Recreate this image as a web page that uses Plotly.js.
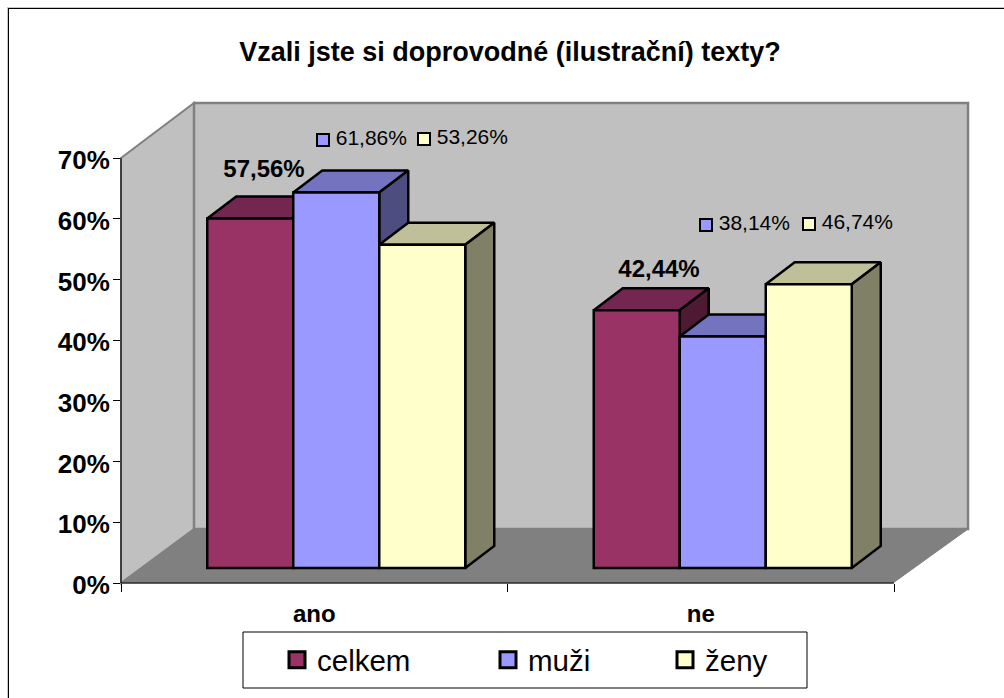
<!DOCTYPE html>
<html>
<head>
<meta charset="utf-8">
<script src="https://cdn.plot.ly/plotly-3.0.1.min.js"></script>
<style>
  html, body { margin:0; padding:0; background:#fff; overflow:hidden; }
  #myDiv { width:1004px; height:698px; }
</style>
</head>
<body>
<div id="myDiv"></div>
<script>
var chartTitle = "Vzali jste si doprovodné (ilustrační) texty?";
var categories = ["ano", "ne"];
var seriesNames = ["celkem", "muži", "ženy"];
var celkem = [57.56, 42.44];
var muzi = [61.86, 38.14];
var zeny = [53.26, 46.74];
var yTicks = [0, 10, 20, 30, 40, 50, 60, 70];

/**************************************************************/
// pixel frame of the plot: axes start at (121,583), back wall ends at (968,103)
var PLOT_L = 121, PLOT_R = 968, PLOT_T = 103, PLOT_B = 583;
var PX_PER_CAT = 386.5;
var PX_PER_PCT = 425 / 70;

function dx(px) { return px / PX_PER_CAT; }
function dy(px) { return px / PX_PER_PCT; }
function toX(px) { return (px - PLOT_L) / PX_PER_CAT - 0.5; }
function toY(px) { return (PLOT_B - px) / PX_PER_PCT; }
function paperX(px) { return (px - PLOT_L) / (PLOT_R - PLOT_L); }
function paperY(px) { return (PLOT_B - px) / (PLOT_B - PLOT_T); }

var FONT = "Liberation Sans, Arial, sans-serif";
var faceColor = ["#993366", "#9999ff", "#ffffcc"];
var topColor = ["#732650", "#7373bf", "#bfbf99"];
var sideColor = ["#4d1933", "#4d4d80", "#808066"];

// bar box geometry
var barWidth = dx(86);
var barBase = dy(15);
var depthX = dx(29);
var depthY = dy(22);
var barOffset = [dx(-107), dx(-21), dx(65)];
var EDGE = 2.5;

/**************************************************************/
function makeFaceTrace(catIdx, vals, sidx, isTop) {
  var xs = [], ys = [];
  for (var i = 0; i < vals.length; i++) {
    var x0 = catIdx[i] + barOffset[sidx];
    var x1 = x0 + barWidth;
    var y0 = barBase;
    var y1 = barBase + vals[i];
    if (isTop) {
      xs.push(x0, x0 + depthX, x1 + depthX, x1, x0, null);
      ys.push(y1, y1 + depthY, y1 + depthY, y1, y1, null);
    } else {
      xs.push(x1, x1 + depthX, x1 + depthX, x1, x1, null);
      ys.push(y1, y1 + depthY, y0 + depthY, y0, y1, null);
    }
  }
  return {
    x: xs, y: ys, type: "scatter", mode: "lines", fill: "toself",
    fillcolor: isTop ? topColor[sidx] : sideColor[sidx],
    line: { color: "#000", width: EDGE },
    hoverinfo: "skip", showlegend: false, zorder: 2 * sidx + 1
  };
}

function makeBarTrace(catIdx, vals, sidx) {
  return {
    x: catIdx, y: vals, base: vals.map(function () { return barBase; }),
    type: "bar", width: barWidth, offset: barOffset[sidx],
    marker: { color: faceColor[sidx], line: { color: "#000", width: EDGE } },
    name: seriesNames[sidx], showlegend: false, zorder: 2 * sidx + 2
  };
}

function makeLegendTrace(sidx) {
  var legendId = sidx === 0 ? "legend" : "legend" + (sidx + 1);
  return {
    x: [null], y: [null], type: "scatter", mode: "markers",
    name: seriesNames[sidx], legend: legendId, showlegend: true,
    marker: { symbol: "square", size: 16, color: faceColor[sidx], line: { color: "#000", width: 3 } }
  };
}

function fmtPct(v) { return v.toFixed(2).replace(".", ",") + "%"; }

// labels sit where they were dragged in the sheet, so they are placed by pixel
function makeLabelTrace(vals, sidx, px, py) {
  var bold = sidx === 0;
  var t = {
    x: px.map(toX), y: py.map(toY), type: "scatter",
    mode: bold ? "text" : "markers+text",
    text: vals.map(function (v) { return (bold ? "" : "\u2009") + fmtPct(v); }),
    textposition: bold ? "middle center" : "middle right",
    textfont: { family: FONT, size: bold ? 24 : 21, color: "#000", weight: bold ? 700 : 400 },
    hoverinfo: "skip", showlegend: false, zorder: 20
  };
  if (!bold)
    t.marker = { symbol: "square", size: 12, color: faceColor[sidx], line: { color: "#000", width: 2 } };
  return t;
}

function makeLegendLayout(keyPx) {
  return {
    x: paperX(keyPx - 30), xanchor: "left", y: paperY(660), yanchor: "middle",
    orientation: "h", bgcolor: "rgba(0,0,0,0)", borderwidth: 0,
    font: { family: FONT, size: 29.5, color: "#000" }
  };
}

function polyPath(pts) {
  var s = "";
  for (var i = 0; i < pts.length; i++)
    s += (i ? "L" : "M") + paperX(pts[i][0]) + "," + paperY(pts[i][1]);
  return s + "Z";
}

function polyShape(pts, fill, lineColor, lw) {
  return { type: "path", xref: "paper", yref: "paper", path: polyPath(pts), layer: "below",
           fillcolor: fill, line: { color: lineColor, width: lw } };
}

function rectShape(x0, y0, x1, y1, lineColor, lw, layer) {
  return { type: "rect", xref: "paper", yref: "paper", layer: layer || "above",
           x0: paperX(x0), x1: paperX(x1), y0: paperY(y0), y1: paperY(y1),
           fillcolor: "rgba(0,0,0,0)", line: { color: lineColor, width: lw } };
}

function lineShape(x0, y0, x1, y1, lineColor, lw) {
  return { type: "line", xref: "paper", yref: "paper", layer: "above",
           x0: paperX(x0), x1: paperX(x1), y0: paperY(y0), y1: paperY(y1),
           line: { color: lineColor, width: lw } };
}

function getLayout() {
  var pos = [0, 1];
  return {
    width: 1004, height: 698,
    margin: { l: PLOT_L, r: 1004 - PLOT_R, t: PLOT_T, b: 698 - PLOT_B, pad: 0, autoexpand: false },
    paper_bgcolor: "#fff", plot_bgcolor: "rgba(0,0,0,0)",
    barmode: "overlay",
    title: { text: chartTitle, font: { family: FONT, size: 27, color: "#000", weight: 700 },
             x: 510 / 1004, xanchor: "center", y: 1 - 52 / 698, yanchor: "middle", xref: "container", yref: "container" },
    xaxis: {
      range: [-0.5, toX(PLOT_R)], showgrid: false, zeroline: false, showline: false,
      tickmode: "array", tickvals: pos, ticktext: categories, ticks: "", ticklabelstandoff: 14,
      tickfont: { family: FONT, size: 24, color: "#000", weight: 700 },
      minor: { tickmode: "array", tickvals: [-0.5, 0.5, 1.5], ticks: "outside", ticklen: 8, tickwidth: 1, tickcolor: "#000", showgrid: false }
    },
    yaxis: {
      range: [0, toY(PLOT_T)], showgrid: false, zeroline: false, showline: false,
      tickmode: "array", tickvals: yTicks, ticktext: yTicks.map(function (v) { return v + "%"; }),
      ticks: "outside", ticklen: 7, tickwidth: 1, tickcolor: "#000", ticklabelstandoff: -2, ticklabelshift: 2,
      tickfont: { family: FONT, size: 26, color: "#000", weight: 700 }
    },
    legend: makeLegendLayout(307),
    legend2: makeLegendLayout(518),
    legend3: makeLegendLayout(695),
    shapes: [
      polyShape([[121, 158], [194, 103], [194, 529], [121, 583]], "#c0c0c0", "#808080", 2),
      polyShape([[194, 103], [968, 103], [968, 529], [194, 529]], "#c0c0c0", "#808080", 2.5),
      polyShape([[121, 583], [194, 529], [968, 529], [893, 583]], "#808080", "#808080", 1),
      lineShape(121, 158, 121, 583, "#000", 1),
      lineShape(121, 583, 894, 583, "#000", 1),
      rectShape(243, 632, 807, 688, "#000", 1),
      // sheet frame only shows on its top and left edge
      lineShape(7, 7.5, 1004, 7.5, "#c8c8c8", 1),
      lineShape(7.5, 7, 7.5, 698, "#c8c8c8", 1),
      lineShape(8, 8.5, 1004, 8.5, "#000", 1),
      lineShape(8.5, 8, 8.5, 698, "#000", 1)
    ]
  };
}

function addAPlot() {
  var pos = [0, 1];
  var data = [];
  var allVals = [celkem, muzi, zeny];
  for (var s = 0; s < allVals.length; s++) {
    data.push(makeFaceTrace(pos, allVals[s], s, true));
    data.push(makeFaceTrace(pos, allVals[s], s, false));
    data.push(makeBarTrace(pos, allVals[s], s));
  }
  data.push(makeLabelTrace(celkem, 0, [264, 659], [171, 271]));
  data.push(makeLabelTrace(muzi, 1, [323, 706], [140, 225]));
  data.push(makeLabelTrace(zeny, 2, [424, 809], [139, 224]));
  for (var k = 0; k < 3; k++)
    data.push(makeLegendTrace(k));
  return Plotly.newPlot("myDiv", data, getLayout(), { displayModeBar: false });
}

addAPlot();
</script>
</body>
</html>
